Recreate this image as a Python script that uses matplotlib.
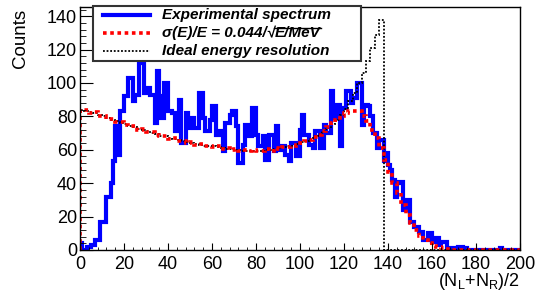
import numpy as np
import matplotlib
matplotlib.use('Agg')
import matplotlib.pyplot as plt
from matplotlib.ticker import MultipleLocator
from matplotlib.lines import Line2D
from matplotlib.patches import Rectangle

plt.rcParams['font.family'] = ['Liberation Sans', 'DejaVu Sans']

# experimental spectrum, 1-unit bins from 0 to 200
exp_counts = [4, 0, 0, 2, 2, 3, 3, 6, 6, 17,
              17, 17, 32, 32, 40, 53, 74, 57, 83, 83,
              92, 92, 103, 103, 89, 93, 93, 113, 112, 94,
              97, 97, 93, 93, 76, 107, 92, 79, 100, 100,
              83, 83, 82, 71, 71, 90, 64, 64, 82, 73,
              79, 79, 73, 73, 94, 94, 79, 71, 71, 78,
              86, 86, 69, 71, 71, 59, 76, 76, 81, 83,
              83, 74, 52, 52, 63, 75, 75, 68, 85, 85,
              69, 62, 62, 68, 54, 54, 69, 69, 59, 74,
              60, 60, 62, 57, 57, 53, 64, 64, 56, 56,
              72, 81, 69, 69, 63, 63, 61, 71, 71, 61,
              61, 75, 70, 70, 95, 79, 79, 87, 62, 85,
              85, 95, 95, 88, 91, 91, 100, 100, 75, 87,
              87, 86, 80, 70, 70, 61, 66, 66, 53, 58,
              51, 48, 42, 32, 40, 41, 41, 24, 30, 30,
              17, 17, 14, 14, 11, 11, 6, 6, 10, 10,
              5, 5, 7, 3, 5, 5, 5, 1, 1, 1,
              1, 1, 2, 2, 0, 1, 0, 0, 0, 0,
              0, 0, 0, 0, 0, 0, 0, 0, 0, 0,
              0, 1, 0, 0, 0, 0, 0, 0, 0, 0]

# ideal resolution, 2-unit bins from 0 to 138
ideal_counts = [84, 83.5, 82.5, 82, 81, 80, 79, 78, 77, 76,
                75.5, 74.5, 73.5, 72.5, 72, 71, 70, 69.5, 68.5, 68,
                67, 66.5, 66, 65, 64.5, 64, 63.5, 63, 62.5, 62,
                62, 61.5, 61, 60.5, 60.5, 60, 60, 59.5, 59.5, 59.5,
                59.5, 59.5, 60, 60, 60.5, 61, 61.5, 62, 62.5, 63.5,
                64.5, 65.5, 66.5, 68, 69.5, 71, 73, 75.5, 78, 81,
                84.5, 89, 94, 100, 106, 113, 121, 129, 138]

# smeared with sigma(E)/E = 0.044/sqrt(E), 2-unit bins from 0 to 168
smeared_counts = [83.5, 84, 82, 82.5, 80.5, 80.5, 78.5, 78.5, 76.5, 76.5,
                  75, 74.5, 74, 72, 72.5, 70.5, 70.5, 69, 68.5, 68.5,
                  66.5, 67, 65.5, 65.5, 64, 64.5, 63, 63.5, 62, 62.5,
                  61.5, 62, 60.5, 61, 60, 60.5, 59.5, 60, 59, 60,
                  59.5, 59, 60.5, 59.5, 61, 60.5, 61.5, 61.5, 62.5, 63,
                  64, 65, 66, 67.5, 69, 71, 73.5, 76, 78, 80.5,
                  82, 83, 83.5, 83, 80, 77, 72, 67, 61, 54,
                  47, 40, 34, 27, 21, 16, 12, 8.5, 6, 4,
                  2.5, 1.5, 1, 0.5]

# the sqrt label is split: part before the radical, part under the bar
legend_labels = [('Experimental spectrum', ''),
                 ('\u03c3(E)/E = 0.044/\u221a', 'E/MeV'),
                 ('Ideal energy resolution', '')]

exp_edges = np.arange(0, 201, 1)
ideal = np.concatenate([ideal_counts, np.zeros(100 - len(ideal_counts))])
smeared = np.concatenate([smeared_counts, np.zeros(100 - len(smeared_counts))])
edges2 = np.arange(0, 201, 2)

W, H = 535, 297
fig = plt.figure(figsize=(W / 100, H / 100), dpi=100)
ax = fig.add_axes([80 / W, 47 / H, 440 / W, 243 / H])

blue = dict(color='#0000ff', lw=3)
red = dict(color='#ff0000', lw=2.6, linestyle=(0, (1, 1)))
black = dict(color='black', lw=1.3, linestyle=(0, (1, 1)))

ax.stairs(exp_counts, exp_edges, **blue)
ax.stairs(ideal, edges2, **black)
ax.stairs(smeared, edges2, **red)

ax.set_xlim(0, 200)
ax.set_ylim(0, 145.5)
ax.xaxis.set_major_locator(MultipleLocator(20))
ax.xaxis.set_minor_locator(MultipleLocator(4))
ax.yaxis.set_major_locator(MultipleLocator(20))
ax.yaxis.set_minor_locator(MultipleLocator(4))
ax.tick_params(which='both', direction='in', top=False, right=False, labelsize=13)
ax.tick_params(axis='y', which='major', length=9, pad=2)
ax.tick_params(axis='y', which='minor', length=4.5)
ax.tick_params(axis='x', which='major', length=5, pad=4)
ax.tick_params(axis='x', which='minor', length=2.5)
for s in ax.spines.values():
    s.set_linewidth(1)

fig.text(20 / W, 1 - 9 / H, 'Counts', rotation=90, ha='center', va='top', fontsize=13.5)
fig.text(520 / W, 1 - 271 / H, r'(N$_\mathregular{L}$+N$_\mathregular{R}$)/2',
         ha='right', va='top', fontsize=13)

# legend box drawn by hand so the rows keep the reference spacing
fig.add_artist(Rectangle((93 / W, 1 - 61 / H), 268 / W, 55 / H, transform=fig.transFigure,
                         facecolor='white', edgecolor='#333333', lw=1.5, zorder=5))
renderer = fig.canvas.get_renderer()
font = dict(fontsize=11, fontweight='bold', fontstyle='italic', zorder=7)
for row, ((lab, under), st) in enumerate(zip(legend_labels, [blue, red, black])):
    yy = 1 - (15 + 18 * row) / H
    fig.add_artist(Line2D([103 / W, 150 / W], [yy, yy], transform=fig.transFigure, zorder=6, **st))
    t1 = fig.text(162 / W, yy, lab, ha='left', va='center', **font)
    if under:
        bb1 = t1.get_window_extent(renderer)
        t2 = fig.text(bb1.x1 / W, yy, under, ha='left', va='center', **font)
        bb2 = t2.get_window_extent(renderer)
        ytop = (bb2.y1 - 1.5) / H
        fig.add_artist(Line2D([(bb1.x1 - 1) / W, bb2.x1 / W], [ytop, ytop],
                              transform=fig.transFigure, color='black', lw=1, zorder=7))

fig.savefig('out.png', dpi=100)
